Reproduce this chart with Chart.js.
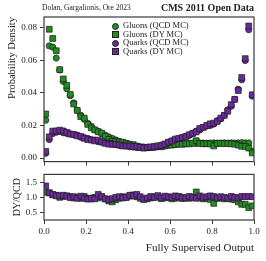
<!DOCTYPE html>
<html><head><meta charset="utf-8">
<script src="https://cdn.jsdelivr.net/npm/chart.js@4.4.1/dist/chart.umd.min.js"></script>
<style>
html,body{margin:0;padding:0;background:#fff;}
#wrap{position:relative;width:266px;height:261px;overflow:hidden;font-family:"Liberation Serif","DejaVu Serif",serif;color:#222;}
#cA{position:absolute;left:0;top:0;}
#cB{position:absolute;left:0;top:166px;}
.ann{position:absolute;white-space:nowrap;line-height:1;}
#legend{position:absolute;left:110px;top:21px;font-size:8.5px;}
#legend .row{height:8.5px;line-height:8.5px;white-space:nowrap;position:relative;padding-left:13px;}
#legend .mk{position:absolute;left:2px;top:1.5px;width:5px;height:5px;border:0.8px solid #222;}
</style></head><body>
<div id="wrap">
<canvas id="cA" width="266" height="170"></canvas>
<canvas id="cB" width="266" height="95"></canvas>
<div class="ann" style="left:42px;top:4px;font-size:7.5px;">Dolan, Gargalionis, Ore 2023</div>
<div class="ann" style="right:12px;top:3px;font-size:10px;font-weight:bold;">CMS 2011 Open Data</div>
<div id="legend"></div>
</div>
<script>
// ---- data ----
const nBins = 60;
const binCenters = Array.from({length: nBins}, (_, k) => (k + 0.5) / nBins);
const xTicks = [0.0, 0.2, 0.4, 0.6, 0.8, 1.0];
const yTicks = [0.00, 0.02, 0.04, 0.06, 0.08];
const ratioTicks = [0.5, 1.0, 1.5];
const seriesLabels = ["Gluons (QCD MC)", "Gluons (DY MC)", "Quarks (QCD MC)", "Quarks (DY MC)"];

const gluonQCD = [0.0232,0.0688,0.0680,0.0613,0.0540,0.0470,0.0425,0.0382,0.0338,0.0292,
0.0262,0.0238,0.0212,0.0195,0.0173,0.0164,0.0150,0.0140,0.0130,0.0121,
0.0111,0.0102,0.0095,0.0089,0.0082,0.0076,0.0072,0.0069,0.0067,0.0066,
0.0066,0.0067,0.0069,0.0072,0.0075,0.0079,0.0083,0.0085,0.0086,0.0088,
0.0089,0.0090,0.0091,0.0090,0.0092,0.0092,0.0091,0.0092,0.0093,0.0092,
0.0092,0.0093,0.0092,0.0093,0.0092,0.0093,0.0094,0.0093,0.0093,0.0042];
const gluonDY = [0.0270,0.0790,0.0733,0.0658,0.0542,0.0485,0.0446,0.0390,0.0331,0.0292,
0.0254,0.0245,0.0206,0.0185,0.0173,0.0161,0.0153,0.0133,0.0114,0.0103,
0.0102,0.0099,0.0097,0.0089,0.0085,0.0082,0.0073,0.0067,0.0062,0.0063,
0.0065,0.0067,0.0070,0.0069,0.0074,0.0079,0.0079,0.0082,0.0086,0.0084,
0.0087,0.0087,0.0091,0.0106,0.0090,0.0087,0.0088,0.0086,0.0074,0.0089,
0.0090,0.0088,0.0089,0.0087,0.0085,0.0079,0.0072,0.0072,0.0061,0.0031];
const quarkQCD = [0.0029,0.0113,0.0150,0.0158,0.0163,0.0155,0.0151,0.0148,0.0142,0.0140,
0.0128,0.0125,0.0120,0.0113,0.0110,0.0100,0.0097,0.0095,0.0092,0.0087,
0.0083,0.0078,0.0076,0.0074,0.0069,0.0067,0.0064,0.0064,0.0066,0.0066,
0.0066,0.0069,0.0071,0.0079,0.0083,0.0095,0.0105,0.0110,0.0117,0.0125,
0.0134,0.0139,0.0151,0.0165,0.0172,0.0188,0.0196,0.0200,0.0208,0.0229,
0.0240,0.0262,0.0296,0.0318,0.0360,0.0422,0.0480,0.0598,0.0787,0.0380];
const quarkDY = [0.0040,0.0130,0.0165,0.0166,0.0171,0.0166,0.0157,0.0147,0.0145,0.0136,
0.0133,0.0121,0.0113,0.0110,0.0105,0.0110,0.0099,0.0090,0.0085,0.0084,
0.0083,0.0080,0.0074,0.0074,0.0074,0.0070,0.0070,0.0065,0.0062,0.0065,
0.0068,0.0069,0.0075,0.0077,0.0086,0.0097,0.0104,0.0116,0.0121,0.0125,
0.0131,0.0143,0.0151,0.0160,0.0181,0.0188,0.0200,0.0210,0.0214,0.0224,
0.0245,0.0262,0.0287,0.0328,0.0360,0.0414,0.0494,0.0610,0.0810,0.0388];
const ratioGluon = [1.17,1.15,1.08,1.07,1.00,1.03,1.05,1.02,0.98,1.00,
0.97,1.03,0.97,0.95,1.00,0.98,1.02,0.95,0.88,0.85,
0.92,0.97,1.02,1.00,1.04,1.08,1.02,0.97,0.93,0.95,
0.98,1.00,1.02,0.96,0.98,1.00,0.95,0.97,1.00,0.96,
0.98,0.97,1.00,1.18,0.98,0.95,0.97,0.93,0.80,0.97,
0.98,0.95,0.97,0.94,0.92,0.85,0.77,0.77,0.66,0.72];
const ratioQuark = [1.38,1.15,1.10,1.05,1.05,1.07,1.04,0.99,1.02,0.97,
1.04,0.97,0.94,0.97,0.95,1.10,1.02,0.95,0.92,0.96,
1.00,1.02,0.98,1.00,1.07,1.05,1.10,1.02,0.94,0.98,
1.03,1.00,1.06,0.98,1.04,1.02,0.99,1.05,1.03,1.00,
0.98,1.03,1.00,0.97,1.05,1.00,1.02,1.05,1.03,0.98,
1.02,1.00,0.97,1.03,1.00,0.98,1.03,1.02,1.03,1.02];

// ---- styles ----
const GREEN = '#238b23', PURPLE = '#6a2a98', EDGE = '#1e1e1e', AXIS = '#3a3a3a';
const FONT = '"Liberation Serif","DejaVu Serif",serif';
const pts = arr => binCenters.map((x, i) => ({x: x, y: arr[i]}));

const frame = {id: 'frame', afterDraw(c) {
  const a = c.chartArea, ctx = c.ctx;
  ctx.save(); ctx.strokeStyle = AXIS; ctx.lineWidth = 1.2;
  ctx.strokeRect(a.left, a.top, a.right - a.left, a.bottom - a.top);
  ctx.restore();
}};
const setTicks = arr => s => { s.ticks = arr.map(v => ({value: v})); };
const gridOpt = {display: true, drawOnChartArea: false, drawTicks: true, tickLength: 4, color: AXIS, lineWidth: 1};

function ds(label, arr, color, style, r, order) {
  return {label, data: pts(arr), backgroundColor: color, borderColor: EDGE, borderWidth: 0.7,
    pointStyle: style, pointRadius: r, pointHoverRadius: r, order};
}

Chart.defaults.font.family = FONT;
Chart.defaults.color = '#222';

const chartTop = new Chart(document.getElementById('cA'), {
  type: 'scatter',
  data: {datasets: [
    ds(seriesLabels[0], gluonQCD, GREEN, 'circle', 3.1, 3),
    ds(seriesLabels[1], gluonDY, GREEN, 'rect', 4.1, 2),
    ds(seriesLabels[2], quarkQCD, PURPLE, 'circle', 3.1, 1),
    ds(seriesLabels[3], quarkDY, PURPLE, 'rect', 4.1, 0)
  ]},
  options: {
    responsive: false, devicePixelRatio: 1, animation: false,
    layout: {padding: {left: 0, right: 12, top: 17, bottom: 0}},
    plugins: {legend: {display: false}, tooltip: {enabled: false}},
    scales: {
      x: {type: 'linear', min: 0, max: 1, afterBuildTicks: setTicks(xTicks),
        ticks: {display: false}, grid: gridOpt, border: {display: false},
        afterFit: s => { s.height = 4; }},
      y: {min: -0.0022, max: 0.0865, afterBuildTicks: setTicks(yTicks),
        ticks: {font: {size: 9, family: FONT}, padding: 3, callback: v => v.toFixed(2)},
        grid: gridOpt, border: {display: false},
        title: {display: true, text: 'Probability Density', align: 'end', font: {size: 10.5, family: FONT}, padding: {top: 6, bottom: 0}},
        afterFit: s => { s.width = 44; }}
    }
  },
  plugins: [frame]
});

const chartBottom = new Chart(document.getElementById('cB'), {
  type: 'scatter',
  data: {datasets: [
    ds('Gluons DY/QCD', ratioGluon, GREEN, 'rect', 4.1, 1),
    ds('Quarks DY/QCD', ratioQuark, PURPLE, 'rect', 4.1, 0)
  ]},
  options: {
    responsive: false, devicePixelRatio: 1, animation: false,
    layout: {padding: {left: 0, right: 12, top: 5, bottom: 0}},
    plugins: {legend: {display: false}, tooltip: {enabled: false}},
    scales: {
      x: {type: 'linear', min: 0, max: 1, afterBuildTicks: setTicks(xTicks),
        ticks: {font: {size: 9, family: FONT}, padding: 2, callback: v => v.toFixed(1), maxRotation: 0},
        grid: gridOpt, border: {display: false},
        title: {display: true, text: 'Fully Supervised Output', align: 'end', font: {size: 11, family: FONT}, padding: {top: 0, bottom: 6}},
        afterFit: s => { s.height = 41; }},
      y: {min: 0.25, max: 1.76, afterBuildTicks: setTicks(ratioTicks),
        ticks: {font: {size: 9, family: FONT}, padding: 3, callback: v => v.toFixed(1)},
        grid: gridOpt, border: {display: false},
        title: {display: true, text: 'DY/QCD', font: {size: 10, family: FONT}, padding: {top: 11, bottom: 0}},
        afterFit: s => { s.width = 44; }}
    }
  },
  plugins: [frame]
});

// HTML legend built from the top chart's datasets
const lg = document.getElementById('legend');
chartTop.data.datasets.forEach(d => {
  const row = document.createElement('div'); row.className = 'row';
  const mk = document.createElement('span'); mk.className = 'mk';
  mk.style.background = d.backgroundColor;
  if (d.pointStyle === 'circle') mk.style.borderRadius = '50%';
  row.appendChild(mk);
  row.appendChild(document.createTextNode(d.label));
  lg.appendChild(row);
});
</script>
</body></html>
